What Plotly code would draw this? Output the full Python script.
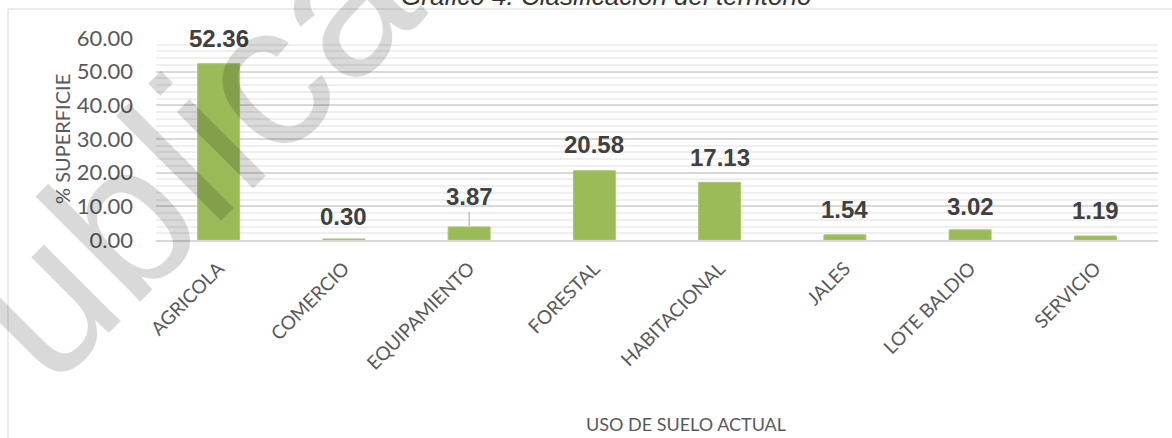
import plotly.graph_objects as go

categories = ["AGRICOLA", "COMERCIO", "EQUIPAMIENTO", "FORESTAL",
              "HABITACIONAL", "JALES", "LOTE BALDIO", "SERVICIO"]
values = [52.36, 0.30, 3.87, 20.58, 17.13, 1.54, 3.02, 1.19]
value_labels = ["52.36", "0.30", "3.87", "20.58", "17.13", "1.54", "3.02", "1.19"]
y_ticks = [0, 10, 20, 30, 40, 50, 60]
y_tick_labels = ["0.00", "10.00", "20.00", "30.00", "40.00", "50.00", "60.00"]

title_text = "Gráfico 4. Clasificación del territorio"
x_title = "USO DE SUELO ACTUAL"
y_title = "% SUPERFICIE"
watermark = "Publica"

# styling (pixel offsets of the data labels above each bar)
label_offsets = [25, 22, 30, 26, 25, 25, 23, 25]
leader_line = [False, False, True, False, False, False, False, False]

W, H = 1172, 438
ML, MR, MT, MB = 156, 14, 38, 198
PW, PH = W - ML - MR, H - MT - MB


def px_x(px):
    return (px - ML) / PW


def px_y(py):
    return (H - MB - py) / PH


fig = go.Figure()
fig.add_trace(go.Bar(
    x=categories, y=values,
    marker=dict(color="#9BBB59", line=dict(color="#A9C76E", width=1)),
    hoverinfo="x+y",
))

label_font = dict(family="Liberation Sans", size=24, color="#404040", weight="bold")
annotations = []
for cat, v, lab, off, lead in zip(categories, values, value_labels, label_offsets, leader_line):
    if lead:
        annotations.append(dict(
            x=cat, y=v, xref="x", yref="y", text=lab, showarrow=True,
            ax=0, ay=-off, arrowhead=0, arrowwidth=1, arrowcolor="#A6A6A6",
            standoff=1, font=label_font,
        ))
    else:
        annotations.append(dict(
            x=cat, y=v, xref="x", yref="y", text=lab, showarrow=False,
            yanchor="middle", yshift=off, font=label_font,
        ))

# axis titles
annotations.append(dict(
    x=px_x(62), y=0.5, xref="paper", yref="paper", text=y_title, textangle=-90,
    showarrow=False, xanchor="center", yanchor="middle",
    font=dict(family="Lato", size=20, color="#595959"),
))
annotations.append(dict(
    x=px_x(686), y=px_y(424), xref="paper", yref="paper", text=x_title,
    showarrow=False, xanchor="center", yanchor="middle",
    font=dict(family="Lato", size=18, color="#595959"),
))
# chart title (partly cut at top, as in the source image)
annotations.append(dict(
    x=px_x(606), y=px_y(13), xref="paper", yref="paper", text="<i>" + title_text + "</i>",
    showarrow=False, xanchor="center", yanchor="bottom",
    font=dict(family="Liberation Sans", size=26, color="#333333"),
))
# watermark
annotations.append(dict(
    x=px_x(140), y=px_y(200), xref="paper", yref="paper", text=watermark,
    textangle=-45, showarrow=False, xanchor="center", yanchor="middle",
    font=dict(family="Liberation Sans", size=205, color="rgba(0,0,0,0.15)"),
))

fig.update_layout(
    width=W, height=H,
    margin=dict(l=ML, r=MR, t=MT, b=MB),
    paper_bgcolor="white", plot_bgcolor="white",
    bargap=0.665,
    showlegend=False,
    annotations=annotations,
    shapes=[dict(type="rect", xref="paper", yref="paper",
                 x0=px_x(8), x1=px_x(1185), y0=px_y(450), y1=px_y(9),
                 line=dict(color="#D9D9D9", width=1), fillcolor="rgba(0,0,0,0)",
                 layer="below")],
    xaxis=dict(
        tickangle=-45, showgrid=False, showline=True, linecolor="#D9D9D9", linewidth=2,
        tickfont=dict(family="Lato", size=19, color="#595959"),
        ticks="", ticklabelstandoff=8, fixedrange=True,
    ),
    yaxis=dict(
        range=[0, 60], tickvals=y_ticks, ticktext=y_tick_labels,
        tickfont=dict(family="Lato", size=22, color="#595959"),
        showgrid=True, gridcolor="#D9D9D9", gridwidth=1.5,
        minor=dict(dtick=2, showgrid=True, gridcolor="#EFEFEF", gridwidth=1.5),
        zeroline=False, showline=False, ticks="", ticklabelstandoff=22,
        fixedrange=True,
    ),
)

fig.write_html("out.html")
